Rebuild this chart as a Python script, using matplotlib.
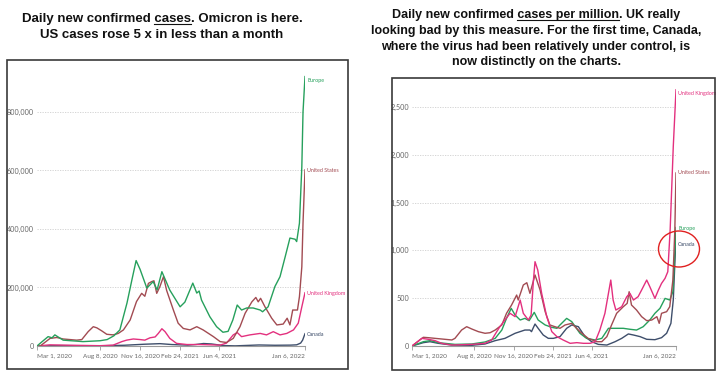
import matplotlib
matplotlib.use("Agg")
import matplotlib.pyplot as plt
from matplotlib import font_manager
from matplotlib.patches import Rectangle, Ellipse
from matplotlib.lines import Line2D

W, H = 724, 377

# x positions are days since Mar 1, 2020
TICK_DAYS = [0, 160, 260, 360, 460, 676]
TICK_LABELS = ["Mar 1, 2020", "Aug 8, 2020", "Nov 16, 2020",
               "Feb 24, 2021", "Jun 4, 2021", "Jan 6, 2022"]

# ---- left chart: daily new confirmed cases ----
eu_days = [0, 13, 28, 38, 45, 66, 116, 159, 177, 194, 209, 227, 240, 250, 260,
           277, 293, 303, 315, 335, 361, 373, 393, 403, 409, 415, 436, 453, 469,
           482, 494, 505, 516, 529, 545, 563, 569, 583, 600, 613, 626, 638, 651,
           655, 662, 668, 671, 676]
eu_cases = [0, 15e3, 32e3, 28e3, 38e3, 20e3, 15e3, 18e3, 22e3, 35e3, 55e3, 147e3,
            230e3, 292e3, 262e3, 198e3, 220e3, 192e3, 254e3, 191e3, 134e3, 150e3,
            215e3, 181e3, 188e3, 157e3, 100e3, 66e3, 47e3, 50e3, 89e3, 140e3,
            123e3, 130e3, 130e3, 123e3, 117e3, 134e3, 203e3, 237e3, 305e3, 369e3,
            365e3, 357e3, 420e3, 613e3, 800e3, 921e3]

us_days = [0, 8, 33, 50, 66, 100, 113, 129, 142, 151, 163, 176, 192, 205, 218,
           235, 251, 264, 272, 281, 289, 295, 302, 310, 319, 327, 344, 356, 369,
           386, 403, 419, 445, 462, 478, 495, 512, 525, 542, 552, 558, 564, 575,
           592, 605, 621, 631, 638, 645, 657, 662, 668, 671, 676]
us_cases = [0, 0, 26e3, 29e3, 24e3, 20e3, 22e3, 49e3, 66e3, 62e3, 52e3, 40e3,
            38e3, 43e3, 55e3, 89e3, 152e3, 180e3, 170e3, 214e3, 220e3, 223e3,
            180e3, 203e3, 237e3, 190e3, 123e3, 78e3, 60e3, 55e3, 66e3, 55e3,
            32e3, 15e3, 12e3, 26e3, 66e3, 112e3, 151e3, 166e3, 151e3, 163e3,
            134e3, 95e3, 72e3, 75e3, 95e3, 72e3, 123e3, 123e3, 169e3, 271e3,
            420e3, 602e3]

uk_days = [0, 33, 66, 159, 192, 214, 226, 243, 260, 272, 285, 298, 306, 315, 323,
           335, 352, 378, 411, 462, 478, 495, 505, 516, 537, 563, 579, 596, 613,
           630, 647, 659, 668, 676]
uk_cases = [0, 4e3, 3e3, 1e3, 3e3, 15e3, 20e3, 24e3, 22e3, 20e3, 28e3, 31e3,
            43e3, 59e3, 49e3, 26e3, 9e3, 5e3, 5e3, 3e3, 10e3, 38e3, 46e3, 32e3,
            38e3, 43e3, 38e3, 49e3, 38e3, 43e3, 55e3, 78e3, 134e3, 182e3]

ca_days = [0, 40, 60, 150, 220, 270, 310, 340, 380, 400, 420, 440, 470, 500, 560,
           600, 640, 655, 665, 670, 676]
ca_cases = [0, 1e3, 1.5e3, 400, 2.5e3, 6e3, 8e3, 5e3, 3e3, 5e3, 8.5e3, 7e3,
            1.5e3, 500, 3.5e3, 2.5e3, 3e3, 4e3, 10e3, 20e3, 42e3]

# ---- right chart: daily new confirmed cases per million ----
us_pm_days = [0, 29, 42, 59, 102, 110, 127, 140, 153, 170, 187, 200, 213, 230,
              242, 255, 268, 272, 285, 294, 302, 315, 328, 341, 353, 366, 379,
              392, 409, 430, 451, 473, 486, 499, 511, 524, 541, 551, 556, 562,
              575, 588, 601, 614, 627, 633, 639, 652, 660, 668, 673, 676]
us_pm = [0, 91, 87, 80, 63, 80, 167, 202, 178, 150, 133, 139, 167, 220, 342, 429,
         533, 481, 638, 662, 551, 743, 586, 359, 220, 202, 185, 220, 237, 150, 80,
         45, 45, 98, 220, 342, 411, 446, 568, 429, 376, 307, 265, 272, 307, 237,
         342, 359, 411, 690, 1213, 1810]

uk_pm_days = [0, 25, 42, 59, 76, 102, 153, 187, 204, 217, 225, 238, 251, 264, 277,
              285, 298, 305, 311, 315, 322, 332, 345, 358, 371, 387, 405, 422,
              439, 456, 469, 481, 494, 503, 509, 515, 522, 537, 550, 558, 567,
              579, 588, 601, 609, 622, 631, 639, 648, 655, 661, 669, 676]
uk_pm = [0, 80, 70, 56, 28, 10, 17, 28, 63, 150, 202, 272, 342, 307, 481, 342,
         272, 324, 690, 882, 795, 551, 307, 150, 98, 63, 28, 35, 28, 28, 45, 167,
         342, 551, 690, 481, 376, 411, 516, 551, 481, 516, 586, 690, 620, 498,
         586, 655, 708, 777, 1213, 2085, 2680]

eu_pm_days = [0, 29, 46, 67, 110, 153, 187, 213, 230, 242, 254, 264, 277, 289,
              300, 313, 323, 341, 358, 371, 379, 396, 409, 430, 447, 469, 486,
              503, 520, 541, 558, 575, 592, 609, 622, 635, 648, 660, 668, 673, 676]
eu_pm = [0, 45, 56, 35, 17, 21, 42, 80, 167, 289, 394, 324, 272, 289, 265, 352,
         272, 220, 195, 185, 220, 289, 255, 133, 80, 63, 80, 185, 185, 185, 175,
         167, 202, 272, 342, 394, 498, 481, 568, 970, 1240]

ca_pm_days = [0, 29, 46, 67, 102, 153, 187, 213, 238, 264, 289, 302, 306, 315,
              323, 336, 349, 362, 379, 396, 409, 426, 443, 460, 477, 499, 520,
              537, 554, 567, 584, 601, 622, 639, 652, 663, 669, 676]
ca_pm = [0, 35, 45, 28, 10, 7, 21, 56, 80, 133, 167, 167, 150, 230, 185, 115, 80,
         80, 98, 185, 220, 202, 98, 45, 17, 10, 45, 80, 126, 115, 98, 70, 66, 87,
         133, 237, 481, 1140]

EU_C = "#26a05c"
US_C = "#a24b52"
UK_C = "#e3307e"
CA_C = "#3e4e6b"
TITLE_FONT = "Liberation Sans"

# the screenshots are squeezed sideways, so prefer a narrow face for chart text
try:
    font_manager.findfont("Liberation Sans Narrow", fallback_to_default=False)
    AXIS_FONT = "Liberation Sans Narrow"
    Y_SIZE, X_SIZE, LAB_SIZE = 6.0, 5.4, 4.6
except ValueError:
    AXIS_FONT = "Lato"
    Y_SIZE, X_SIZE, LAB_SIZE = 5.2, 4.6, 3.9


def fig_rect(x0, y0, x1, y1):
    """Pixel box (top-left origin) -> figure fraction [left, bottom, w, h]."""
    return [x0 / W, 1 - y1 / H, (x1 - x0) / W, (y1 - y0) / H]


def style_axes(ax, ymax, yticks, ylabels):
    ax.set_xlim(0, 676)
    ax.set_ylim(0, ymax)
    for side in ["top", "right", "left"]:
        ax.spines[side].set_visible(False)
    ax.spines["bottom"].set_color("#9a9a9a")
    ax.spines["bottom"].set_linewidth(0.8)
    ax.set_yticks(yticks)
    ax.set_yticklabels(ylabels, fontsize=Y_SIZE, color="#666666", family=AXIS_FONT)
    ax.tick_params(axis="y", length=0, pad=2)
    ax.set_xticks(TICK_DAYS)
    ax.set_xticklabels(TICK_LABELS, fontsize=X_SIZE, color="#666666", family=AXIS_FONT)
    ax.tick_params(axis="x", length=3, width=0.6, color="#9a9a9a", pad=2.5)
    labels = ax.get_xticklabels()
    labels[0].set_ha("left")
    labels[-1].set_ha("right")
    for y in yticks[1:]:
        ax.axhline(y, color="#cfcfcf", lw=0.6, ls=(0, (1.5, 1.5)), zorder=0)
    ax.patch.set_alpha(0)


def end_label(ax, y, text, color):
    ax.annotate(text, xy=(676, y), xytext=(1.5, 0), textcoords="offset points",
                ha="left", va="center", fontsize=LAB_SIZE, color=color,
                family=AXIS_FONT, annotation_clip=False)


fig = plt.figure(figsize=(W / 100, H / 100), dpi=100)
fig.patch.set_facecolor("white")

# frames around the two screenshots
fig.add_artist(Rectangle((7 / W, 1 - 369 / H), 341 / W, 309 / H, transform=fig.transFigure,
                         fill=False, edgecolor="#3a3a3a", lw=1.2))
fig.add_artist(Rectangle((392 / W, 1 - 370 / H), 323 / W, 292 / H, transform=fig.transFigure,
                         fill=False, edgecolor="#3a3a3a", lw=1.2))

# left chart
ax1 = fig.add_axes(fig_rect(37, 75.4, 305, 346))
style_axes(ax1, 925000, [0, 200000, 400000, 600000, 800000],
           ["0", "200,000", "400,000", "600,000", "800,000"])
ax1.plot(ca_days, ca_cases, color=CA_C, lw=1.0)
ax1.plot(uk_days, uk_cases, color=UK_C, lw=1.0)
ax1.plot(us_days, us_cases, color=US_C, lw=1.0)
ax1.plot(eu_days, eu_cases, color=EU_C, lw=1.0)
end_label(ax1, 909000, "Europe", EU_C)
end_label(ax1, 600000, "United States", US_C)
end_label(ax1, 181000, "United Kingdom", UK_C)
end_label(ax1, 41000, "Canada", CA_C)

# right chart
ax2 = fig.add_axes(fig_rect(412, 87.9, 676, 346))
style_axes(ax2, 2700, [0, 500, 1000, 1500, 2000, 2500],
           ["0", "500", "1,000", "1,500", "2,000", "2,500"])
ax2.plot(ca_pm_days, ca_pm, color=CA_C, lw=1.0)
ax2.plot(eu_pm_days, eu_pm, color=EU_C, lw=1.0)
ax2.plot(us_pm_days, us_pm, color=US_C, lw=1.0)
ax2.plot(uk_pm_days, uk_pm, color=UK_C, lw=1.0)
end_label(ax2, 2646, "United Kingdom", UK_C)
end_label(ax2, 1813, "United States", US_C)
end_label(ax2, 1234, "Europe", EU_C)
end_label(ax2, 1067, "Canada", CA_C)

# red circle around Canada / Europe end points
fig.add_artist(Ellipse((679 / W, 1 - 249 / H), 41 / W, 36 / H, transform=fig.transFigure,
                       fill=False, edgecolor="#e02020", lw=1.0))

# titles, with underlined words
renderer = fig.canvas.get_renderer()


def text_width(s, size):
    t = fig.text(0, 0, s, fontsize=size, fontweight="bold", family=TITLE_FONT)
    w = t.get_window_extent(renderer).width
    t.remove()
    return w


def title_block(cx, ys, lines, size):
    for y, (pre, under, post) in zip(ys, lines):
        t = fig.text(cx / W, 1 - y / H, pre + under + post, ha="center", va="center",
                     fontsize=size, fontweight="bold", family=TITLE_FONT, color="#111111")
        if not under:
            continue
        bb = t.get_window_extent(renderer)
        x1 = bb.x0 + text_width(pre + under, size)
        x0 = x1 - text_width(under, size)
        yl = bb.y0 + 1.3
        fig.add_artist(Line2D([x0 / fig.bbox.width, x1 / fig.bbox.width],
                              [yl / fig.bbox.height, yl / fig.bbox.height],
                              transform=fig.transFigure, color="#111111", lw=0.8))


title_block(162, [19, 35], [
    ("Daily new confirmed ", "cases", ". Omicron is here."),
    ("US cases rose 5 x in less than a month", "", ""),
], 9.5)
title_block(536, [15, 31, 47, 62], [
    ("Daily new confirmed ", "cases per million", ". UK really"),
    ("looking bad by this measure. For the first time, Canada,", "", ""),
    ("where the virus had been relatively under control, is", "", ""),
    ("now distinctly on the charts.", "", ""),
], 9.0)

fig.savefig("out.png", dpi=100, facecolor="white")
